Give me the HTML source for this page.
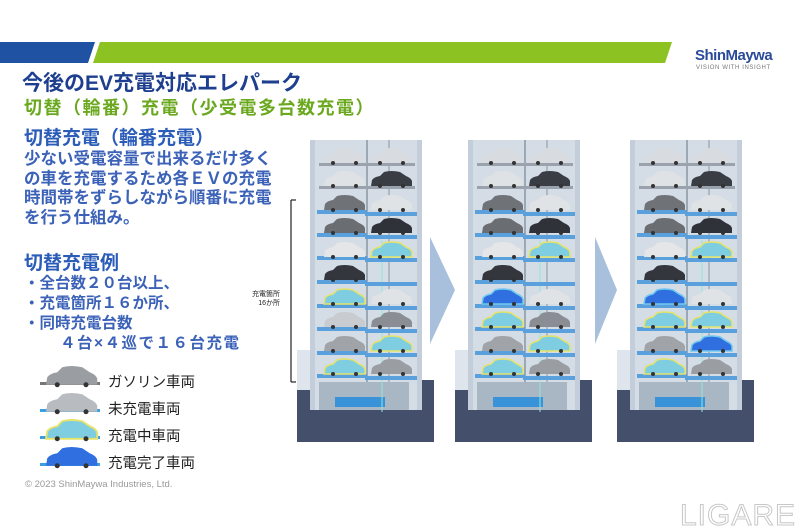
<!DOCTYPE html>
<html><head><meta charset="utf-8"><style>
body{margin:0;width:800px;height:532px;background:#fff;overflow:hidden;position:relative;font-family:"Liberation Sans","Noto Sans CJK JP",sans-serif}
.t{position:absolute;white-space:nowrap}
</style></head><body>
<svg width="800" height="532" style="position:absolute;left:0;top:0">
<defs>
<g id="car"><path d="M0 15 L1 9 Q3 6 9 5 L13 1 Q20 -1 29 1 L35 5 Q40 7 41 10 L41 15 Z"/><circle cx="9" cy="15" r="2" fill="#333" stroke="none"/><circle cx="32" cy="15" r="2" fill="#333" stroke="none"/></g>
<g id="tower">
 <rect x="0" y="248" width="137" height="62" fill="#434f6b"/>
 <rect x="0" y="218" width="20" height="40" fill="#dfe5ec"/>
 <rect x="13" y="8" width="112" height="270" fill="#c4ceda"/>
 <rect x="18" y="8" width="102" height="270" fill="#d4dce6"/>
 <line x1="70" y1="8" x2="70" y2="278" stroke="#8a96a4" stroke-width="1.5"/>
 <line x1="92" y1="8" x2="92" y2="278" stroke="#8a96a4" stroke-width="1"/>
 <rect x="22" y="250" width="90" height="28" fill="#a9b6c4"/>
 <rect x="38" y="265" width="50" height="10" fill="#3a92d8"/>
 <line x1="85" y1="108" x2="85" y2="280" stroke="#8fe8d8" stroke-width="1"/>
 <g fill="#5aa0dc">
  <rect x="20" y="101" width="50" height="4"/><rect x="68" y="103" width="52" height="4"/>
  <rect x="20" y="124" width="50" height="4"/><rect x="68" y="126" width="52" height="4"/>
  <rect x="20" y="148" width="50" height="4"/><rect x="68" y="150" width="52" height="4"/>
  <rect x="20" y="172" width="50" height="4"/><rect x="68" y="174" width="52" height="4"/>
  <rect x="20" y="195" width="50" height="4"/><rect x="68" y="197" width="52" height="4"/>
  <rect x="20" y="219" width="50" height="4"/><rect x="68" y="221" width="52" height="4"/>
  <rect x="20" y="242" width="50" height="4"/><rect x="68" y="244" width="52" height="4"/>
  <rect x="20" y="78" width="50" height="4"/><rect x="68" y="80" width="52" height="4"/>
 </g>
 <g fill="#9aa3ad"><rect x="22" y="31" width="96" height="3"/><rect x="22" y="54" width="96" height="3"/></g>
</g>
</defs>

<polygon points="0,42 95,42 88,63 0,63" fill="#1f52a3"/>
<polygon points="100,42 672,42 665,63 93,63" fill="#8cc221"/>

<line x1="291" y1="200" x2="291" y2="382" stroke="#222" stroke-width="1.2"/>
<line x1="291" y1="200" x2="296" y2="200" stroke="#222" stroke-width="1.2"/>
<line x1="291" y1="382" x2="296" y2="382" stroke="#222" stroke-width="1.2"/>

<polygon points="430,237 455,290 430,344" fill="#a8c0dc"/>
<polygon points="595,237 617,290 595,344" fill="#a8c0dc"/>

<g transform="translate(297,132)"><use href="#tower"/>
<use href="#car" x="27" y="16" fill="#d8dbe0"/><use href="#car" x="74" y="16" fill="#d8dbe0"/>
<use href="#car" x="27" y="39" fill="#dfe2e5"/><use href="#car" x="74" y="39" fill="#3a3d44"/>
<use href="#car" x="27" y="63" fill="#6f7378"/><use href="#car" x="74" y="63" fill="#e0e3e6"/>
<use href="#car" x="27" y="86" fill="#6a6d72"/><use href="#car" x="74" y="86" fill="#2f3238"/>
<use href="#car" x="27" y="110" fill="#e4e6e8"/><use href="#car" x="74" y="110" fill="#7ecde0" stroke="#e6e36a" stroke-width="1.5"/>
<use href="#car" x="27" y="133" fill="#33363c"/>
<use href="#car" x="27" y="157" fill="#7ecde0" stroke="#e6e36a" stroke-width="1.5"/><use href="#car" x="74" y="157" fill="#e0e3e6"/>
<use href="#car" x="27" y="180" fill="#c8ccd0"/><use href="#car" x="74" y="180" fill="#8a8e94"/>
<use href="#car" x="27" y="204" fill="#a0a4a9"/><use href="#car" x="74" y="204" fill="#7ecde0" stroke="#e6e36a" stroke-width="1.5"/>
<use href="#car" x="27" y="227" fill="#7ecde0" stroke="#e6e36a" stroke-width="1.5"/><use href="#car" x="74" y="227" fill="#9a9ea3"/>
</g>
<g transform="translate(455,132)"><use href="#tower"/>
<use href="#car" x="27" y="16" fill="#d8dbe0"/><use href="#car" x="74" y="16" fill="#d8dbe0"/>
<use href="#car" x="27" y="39" fill="#dfe2e5"/><use href="#car" x="74" y="39" fill="#3a3d44"/>
<use href="#car" x="27" y="63" fill="#6f7378"/><use href="#car" x="74" y="63" fill="#e0e3e6"/>
<use href="#car" x="27" y="86" fill="#6a6d72"/><use href="#car" x="74" y="86" fill="#2f3238"/>
<use href="#car" x="27" y="110" fill="#e4e6e8"/><use href="#car" x="74" y="110" fill="#7ecde0" stroke="#e6e36a" stroke-width="1.5"/>
<use href="#car" x="27" y="133" fill="#33363c"/>
<use href="#car" x="27" y="157" fill="#2f6fe0" stroke="#6fc8f0" stroke-width="1.5"/><use href="#car" x="74" y="157" fill="#e0e3e6"/>
<use href="#car" x="27" y="180" fill="#7ecde0" stroke="#e6e36a" stroke-width="1.5"/><use href="#car" x="74" y="180" fill="#8a8e94"/>
<use href="#car" x="27" y="204" fill="#a0a4a9"/><use href="#car" x="74" y="204" fill="#7ecde0" stroke="#e6e36a" stroke-width="1.5"/>
<use href="#car" x="27" y="227" fill="#7ecde0" stroke="#e6e36a" stroke-width="1.5"/><use href="#car" x="74" y="227" fill="#9a9ea3"/>
</g>
<g transform="translate(617,132)"><use href="#tower"/>
<use href="#car" x="27" y="16" fill="#d8dbe0"/><use href="#car" x="74" y="16" fill="#d8dbe0"/>
<use href="#car" x="27" y="39" fill="#dfe2e5"/><use href="#car" x="74" y="39" fill="#3a3d44"/>
<use href="#car" x="27" y="63" fill="#6f7378"/><use href="#car" x="74" y="63" fill="#e0e3e6"/>
<use href="#car" x="27" y="86" fill="#6a6d72"/><use href="#car" x="74" y="86" fill="#2f3238"/>
<use href="#car" x="27" y="110" fill="#e4e6e8"/><use href="#car" x="74" y="110" fill="#7ecde0" stroke="#e6e36a" stroke-width="1.5"/>
<use href="#car" x="27" y="133" fill="#33363c"/>
<use href="#car" x="27" y="157" fill="#2f6fe0" stroke="#6fc8f0" stroke-width="1.5"/><use href="#car" x="74" y="157" fill="#e0e3e6"/>
<use href="#car" x="27" y="180" fill="#7ecde0" stroke="#e6e36a" stroke-width="1.5"/><use href="#car" x="74" y="180" fill="#7ecde0" stroke="#e6e36a" stroke-width="1.5"/>
<use href="#car" x="27" y="204" fill="#a0a4a9"/><use href="#car" x="74" y="204" fill="#2f6fe0" stroke="#6fc8f0" stroke-width="1.5"/>
<use href="#car" x="27" y="227" fill="#7ecde0" stroke="#e6e36a" stroke-width="1.5"/><use href="#car" x="74" y="227" fill="#9a9ea3"/>
</g>

<g transform="translate(46,366)"><rect x="-6" y="16" width="60" height="3" fill="#777"/><use href="#car" transform="scale(1.25)" fill="#9a9da2"/></g>
<g transform="translate(46,393)"><rect x="-6" y="16" width="60" height="3" fill="#3a9ee0"/><use href="#car" transform="scale(1.25)" fill="#b8bcc1"/></g>
<g transform="translate(46,420)"><rect x="-6" y="16" width="60" height="3" fill="#3a9ee0"/><use href="#car" transform="scale(1.25)" fill="#7ecde0" stroke="#e6e36a" stroke-width="1.5"/></g>
<g transform="translate(46,447)"><rect x="-6" y="16" width="60" height="3" fill="#3a9ee0"/><use href="#car" transform="scale(1.25)" fill="#2f6fe0"/></g>

<text x="738" y="525" font-family="Liberation Sans" font-size="30" fill="#fff" stroke="#c8c8c8" stroke-width="1" text-anchor="middle" letter-spacing="1">LIGARE</text>
</svg>

<div class="t" style="left:695px;top:47px;font-size:15px;font-weight:bold;color:#2a4a9a;letter-spacing:-0.5px">ShinMaywa</div>
<div class="t" style="left:696px;top:65px;font-size:6px;color:#777;letter-spacing:0.6px">VISION WITH INSIGHT</div>

<div class="t" style="left:22px;top:67px;font-size:21px;font-weight:bold;color:#1e3f8f">今後のEV充電対応エレパーク</div>
<div class="t" style="left:24px;top:94px;font-size:18px;font-weight:bold;color:#6aa81e;letter-spacing:1.5px">切替（輪番）充電（少受電多台数充電）</div>
<div class="t" style="left:24px;top:123px;font-size:19px;font-weight:bold;color:#2a5cb8">切替充電（輪番充電）</div>
<div class="t" style="left:24px;top:150px;font-size:16.5px;font-weight:bold;color:#3c62b8;line-height:19.5px">少ない受電容量で出来るだけ多く<br>の車を充電するため各ＥＶの充電<br>時間帯をずらしながら順番に充電<br>を行う仕組み。</div>
<div class="t" style="left:24px;top:248px;font-size:19px;font-weight:bold;color:#2a5cb8">切替充電例</div>
<div class="t" style="left:24px;top:274px;font-size:15.5px;font-weight:bold;color:#3c62b8;line-height:20px">・全台数２０台以上、<br>・充電箇所１６か所、<br>・同時充電台数<br><span style="padding-left:36px;letter-spacing:1.5px">４台×４巡で１６台充電</span></div>
<div class="t" style="left:252px;top:290px;font-size:7px;color:#222;line-height:9px;text-align:right">充電箇所<br>16か所</div>

<div class="t" style="left:108px;top:370px;font-size:14.5px;color:#222;line-height:27px">ガソリン車両<br>未充電車両<br>充電中車両<br>充電完了車両</div>
<div class="t" style="left:25px;top:479px;font-size:9.5px;color:#999">© 2023 ShinMaywa Industries, Ltd.</div>
</body></html>
